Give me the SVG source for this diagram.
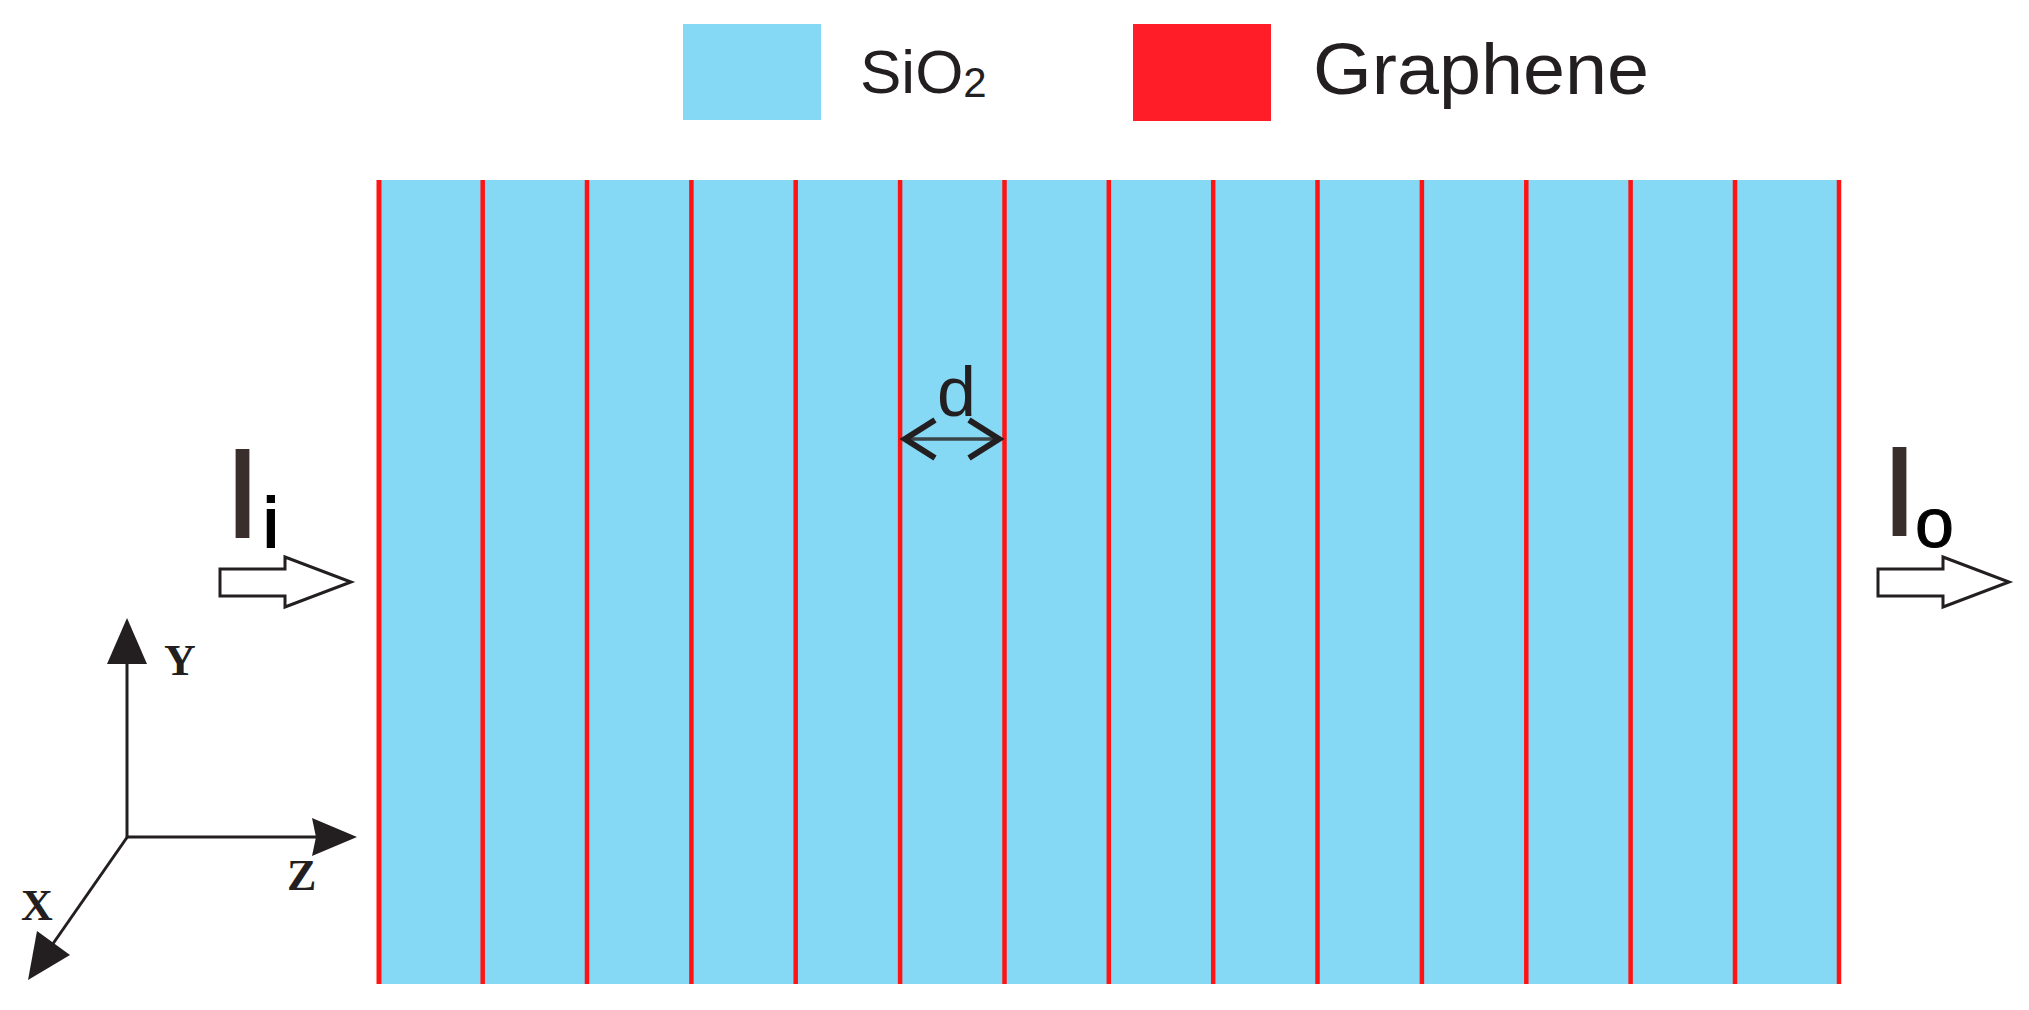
<svg xmlns="http://www.w3.org/2000/svg" width="2029" height="1010" viewBox="0 0 2029 1010">
<style>
.sans{font-family:"Liberation Sans",Arial,sans-serif;fill:#231f20}
.serif{font-family:"Liberation Serif","Times New Roman",serif;font-weight:bold;fill:#231f20}
.gl{stroke:#ff1414;stroke-width:4.5}
.ax{stroke:#231f20;stroke-width:3;fill:none}
.head{fill:#231f20}
.hollow{fill:#fff;stroke:#231f20;stroke-width:3;stroke-linejoin:miter}
</style>
<rect width="2029" height="1010" fill="#fff"/>
<g id="legend">
  <rect x="683" y="24" width="138" height="96" fill="#86d9f5"/>
  <text class="sans" x="860" y="93" font-size="62">SiO<tspan font-size="42" dy="4">2</tspan></text>
  <rect x="1133" y="24" width="138" height="97" fill="#ff1d27"/>
  <text class="sans" x="1313" y="94" font-size="72" textLength="336" lengthAdjust="spacingAndGlyphs">Graphene</text>
</g>
<g id="stack">
  <rect x="378" y="180" width="1461" height="804" fill="#86d9f5"/>
  <g class="gl">
    <line x1="379" y1="180" x2="379" y2="984" stroke-width="5"/>
    <line x1="482.7" y1="180" x2="482.7" y2="984"/>
    <line x1="587" y1="180" x2="587" y2="984"/>
    <line x1="691.4" y1="180" x2="691.4" y2="984"/>
    <line x1="795.7" y1="180" x2="795.7" y2="984"/>
    <line x1="900.1" y1="180" x2="900.1" y2="984"/>
    <line x1="1004.5" y1="180" x2="1004.5" y2="984"/>
    <line x1="1108.8" y1="180" x2="1108.8" y2="984"/>
    <line x1="1213.2" y1="180" x2="1213.2" y2="984"/>
    <line x1="1317.5" y1="180" x2="1317.5" y2="984"/>
    <line x1="1421.9" y1="180" x2="1421.9" y2="984"/>
    <line x1="1526.3" y1="180" x2="1526.3" y2="984"/>
    <line x1="1630.6" y1="180" x2="1630.6" y2="984"/>
    <line x1="1735" y1="180" x2="1735" y2="984"/>
    <line x1="1839" y1="180" x2="1839" y2="984"/>
  </g>
</g>
<g id="period-d">
  <line x1="906" y1="439" x2="998" y2="439" stroke="#3b4446" stroke-width="3.5"/>
  <polyline points="935,420 905,439 935,458" fill="none" stroke="#231f20" stroke-width="6"/>
  <polyline points="969,420 999,439 969,458" fill="none" stroke="#231f20" stroke-width="6"/>
  <text class="sans" x="937" y="416" font-size="70">d</text>
</g>
<g id="input">
  <text class="sans" x="225" y="537" font-size="126" style="fill:#3a2e2c;stroke:#3a2e2c;stroke-width:2">I</text>
  <text class="sans" x="263" y="547" font-size="71" style="fill:#000;stroke:#000;stroke-width:2">i</text>
  <polygon class="hollow" points="220,569 285,569 285,557 351,582 285,607 285,596 220,596"/>
</g>
<g id="output">
  <text class="sans" x="1882" y="535" font-size="126" style="fill:#3a2e2c;stroke:#3a2e2c;stroke-width:2">I</text>
  <text class="sans" x="1915" y="547" font-size="70" style="fill:#000;stroke:#000;stroke-width:1">o</text>
  <polygon class="hollow" points="1878,569 1943,569 1943,557 2009,582 1943,607 1943,596 1878,596"/>
</g>
<g id="axes">
  <line class="ax" x1="127" y1="838" x2="127" y2="655"/>
  <polygon class="head" points="127,618 107,664 147,664"/>
  <line class="ax" x1="126" y1="837" x2="320" y2="837"/>
  <polygon class="head" points="357,837 312,818 316,837 312,856"/>
  <line class="ax" x1="128" y1="836" x2="50" y2="948"/>
  <polygon class="head" points="28,980 37,931 70,955"/>
  <text class="serif" x="164" y="675" font-size="44">Y</text>
  <text class="serif" x="287" y="890" font-size="44">Z</text>
  <text class="serif" x="21" y="920" font-size="44">X</text>
</g>
</svg>
